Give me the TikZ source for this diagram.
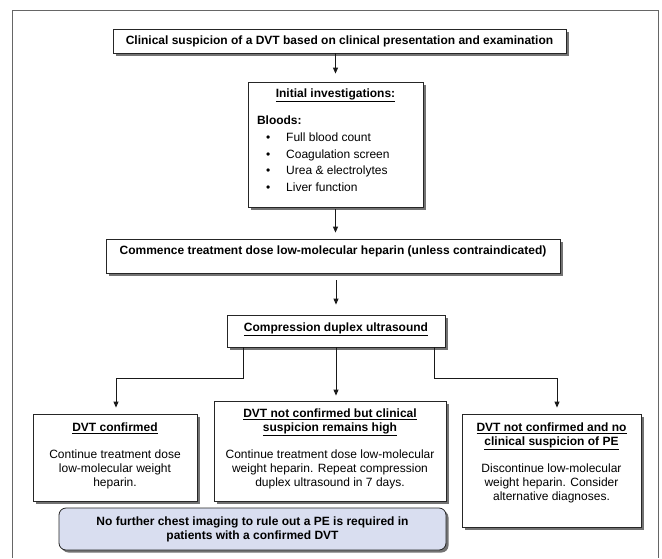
\documentclass[tikz,border=0pt]{standalone}
\usepackage{fontspec}
\setmainfont{Liberation Sans}
\usetikzlibrary{arrows.meta,shadows}

\definecolor{notefill}{HTML}{D9DEF0}
\tikzset{
  box/.style={draw=black!85, fill=white, inner sep=0pt, line width=0.8pt,
    drop shadow={shadow xshift=2.5pt, shadow yshift=-2.5pt, fill=black!55, opacity=1}},
  note/.style={box, rounded corners=7pt, fill=notefill},
  link/.style={->, line width=0.9pt, draw=black!90},
}
% box text: width, height, content (top aligned)
\newcommand{\cell}[3]{\parbox[c][#2][t]{#1}{\centering #3}}

\begin{document}
\begin{tikzpicture}[x=1pt, y=-1pt, >={Triangle[length=6pt,width=5pt]},
    font=\fontsize{12}{14}\selectfont]
	\useasboundingbox (0,0) rectangle (662,558);
	\draw [black!60, line width=0.9pt] (12.7,558) -- (12.7,10.7) -- (658,10.7) -- (658,558);

	% Nodes {susp, inv, comm, comp, dvt, high, nodvt, note}
	\node [box] (susp) at (339.5,41)
	{\cell{453pt}{24pt}{\vspace{7pt}\textbf{Clinical suspicion of a DVT based on clinical presentation and examination}}};
	\node [box] (inv) at (335.5,144.5)
	{\parbox[c][125pt][t]{175pt}{\vspace{7pt}\centering\textbf{\underline{Initial investigations:}}\par
		\vspace{13pt}\raggedright\hspace*{9pt}\textbf{Bloods:}\par
		\fontsize{12}{16.7}\selectfont
		\hspace*{18pt}\textbullet\hspace*{16pt}Full blood count\par
		\hspace*{18pt}\textbullet\hspace*{16pt}Coagulation screen\par
		\hspace*{18pt}\textbullet\hspace*{16pt}Urea \& electrolytes\par
		\hspace*{18pt}\textbullet\hspace*{16pt}Liver function\par}};
	\node [box] (comm) at (333,256)
	{\cell{454pt}{34pt}{\vspace{6.5pt}\textbf{Commence treatment dose low-molecular heparin (unless contraindicated)}}};
	\node [box] (comp) at (336,331)
	{\cell{218pt}{32pt}{\vspace{7.5pt}\textbf{\underline{Compression duplex ultrasound}}}};
	\node [box] (dvt) at (115,457.5)
	{\cell{164pt}{87pt}{\vspace{8.5pt}\textbf{\underline{DVT confirmed}}\\[13pt]
		Continue treatment dose\\ low-molecular weight\\ heparin.}};
	\node [box] (high) at (330,451)
	{\cell{232pt}{100pt}{\vspace{7.5pt}\textbf{\underline{DVT not confirmed but clinical}}\\
		\textbf{\underline{suspicion remains high}}\\[13pt]
		Continue treatment dose low-molecular\\ weight heparin. Repeat compression\\ duplex ultrasound in 7 days.}};
	\node [box] (nodvt) at (551.5,470.5)
	{\cell{179pt}{113pt}{\vspace{8.5pt}\textbf{\underline{DVT not confirmed and no}}\\
		\textbf{\underline{clinical suspicion of PE}}\\[13pt]
		Discontinue low-molecular\\ weight heparin. Consider\\ alternative diagnoses.}};
	\node [note] (note) at (252.5,529)
	{\cell{387pt}{42pt}{\vspace{8.5pt}\textbf{No further chest imaging to rule out a PE is required in}\\
		\textbf{patients with a confirmed DVT}}};

	% Paths
	\draw [link, shorten >=8pt] (inv.north |- susp.south) -- (inv.north);
	\draw [link, shorten <=2pt, shorten >=6pt] (inv.south) -- (inv.south |- comm.north);
	\draw [link, shorten <=7pt, shorten >=10pt] (comp.north |- comm.south) -- (comp.north);
	\draw [link, shorten >=5pt] (comp.south) -- (comp.south |- high.north);
	\draw [link, shorten >=6pt] ([xshift=17pt]comp.south west) -- ++(0,31) -| ([xshift=1pt]dvt.north);
	\draw [link, shorten >=6pt] ([xshift=-11pt]comp.south east) -- ++(0,31) -| ([xshift=5.5pt]nodvt.north);
\end{tikzpicture}
\end{document}
